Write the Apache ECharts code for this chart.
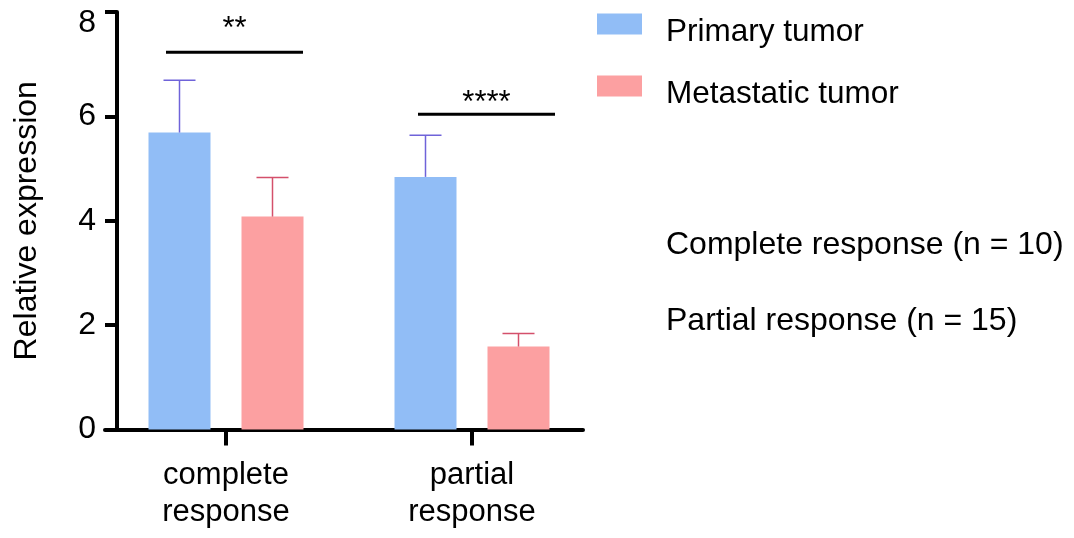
<!DOCTYPE html>
<html>
<head>
<meta charset="utf-8">
<script src="https://cdn.jsdelivr.net/npm/echarts@6/dist/echarts.min.js"></script>
<style>
html,body{margin:0;padding:0;background:#fff;}
#c{width:1074px;height:538px;}
</style>
</head>
<body>
<div id="c"></div>
<script>
// ---- data ----
const categories = ['complete\nresponse', 'partial\nresponse'];
const seriesNames = ['Primary tumor', 'Metastatic tumor'];
const primaryMean = [5.69, 4.84];
const primaryUpper = [6.69, 5.64];
const metaMean = [4.08, 1.59];
const metaUpper = [4.83, 1.84];
const yTicks = [0, 2, 4, 6, 8];
const sigLabels = ['**', '****'];
const sigLineLevel = [7.23, 6.04];
const sigStarLevel = [7.67, 6.25];
const notes = ['Complete response (n = 10)', 'Partial response (n = 15)'];

// ---- layout / style ----
const FONT = "'Liberation Sans', Arial, sans-serif";
const BAR_W = 62, BAR_GAP = 31;
const OFF = (BAR_W + BAR_GAP) / 2;
const BLUE = '#91bdf6', RED = '#fca0a1';
const BLUE_ERR = '#6f63d9', RED_ERR = '#d4506b';
const sigSpan = [[-60, 77], [-54, 83]];
const TOP = 12, H = 417.5;
const yMin = yTicks[0], yMax = yTicks[yTicks.length - 1], yStep = yTicks[1] - yTicks[0];

function errRender(offset, color) {
  return function (params, api) {
    const b = api.coord([api.value(0), api.value(1)]);
    const t = api.coord([api.value(0), api.value(2)]);
    const x = b[0] + offset;
    return {
      type: 'group',
      children: [
        { type: 'line', shape: { x1: x, y1: b[1], x2: x, y2: t[1] }, style: { stroke: color, lineWidth: 1.5 } },
        { type: 'line', shape: { x1: x - 16, y1: t[1], x2: x + 16, y2: t[1] }, style: { stroke: color, lineWidth: 1.5 } }
      ]
    };
  };
}

function sigRender(params, api) {
  const i = params.dataIndex;
  const p = api.coord([api.value(0), api.value(1)]);
  const s = api.coord([api.value(0), api.value(2)]);
  const x1 = p[0] + sigSpan[i][0], x2 = p[0] + sigSpan[i][1];
  return {
    type: 'group',
    children: [
      { type: 'line', shape: { x1: x1, y1: p[1], x2: x2, y2: p[1] }, style: { stroke: '#000', lineWidth: 3 } },
      { type: 'text', x: (x1 + x2) / 2, y: s[1],
        style: { text: sigLabels[i], font: '31px ' + FONT, fill: '#000', align: 'center', verticalAlign: 'middle' } }
    ]
  };
}

function yLabelRender(params, api) {
  const p = api.coord([api.value(0), api.value(1)]);
  // keep the top label inside the frame (top-aligned with its tick)
  const y = Math.max(p[1], TOP + 11);
  return { type: 'text', x: p[0] - 21, y: y,
    style: { text: String(api.value(1)), font: '32px ' + FONT, fill: '#000', align: 'right', verticalAlign: 'middle' } };
}

const chart = echarts.init(document.getElementById('c'), null, { renderer: 'canvas' });
chart.setOption({
  animation: false,
  backgroundColor: '#fff',
  textStyle: { fontFamily: FONT },
  grid: [
    { left: 103, width: 492, top: TOP, height: H, containLabel: false, outerBoundsMode: 'none' },
    { left: 105, width: 478, top: TOP, height: H, containLabel: false, outerBoundsMode: 'none' },
    { left: 117, width: 466, top: TOP, height: H, containLabel: false, outerBoundsMode: 'none' }
  ],
  xAxis: [
    {
      type: 'category', gridIndex: 0, data: categories,
      axisLine: { show: false },
      axisTick: { show: true, alignWithLabel: true, length: 16, lineStyle: { color: '#000', width: 4 } },
      axisLabel: { color: '#000', fontSize: 31, fontFamily: FONT, lineHeight: 37, margin: 27, interval: 0 },
      splitLine: { show: false }
    },
    {
      type: 'value', gridIndex: 1, min: 0, max: 1,
      axisLine: { show: true, onZero: false, lineStyle: { color: '#000', width: 4 } },
      axisTick: { show: false }, axisLabel: { show: false }, splitLine: { show: false }
    },
    { type: 'value', gridIndex: 2, show: false, min: 0, max: 1 }
  ],
  yAxis: [
    { type: 'value', gridIndex: 0, show: false, min: yMin, max: yMax, interval: yStep },
    { type: 'value', gridIndex: 1, show: false, min: 0, max: 1 },
    {
      type: 'value', gridIndex: 2, min: yMin, max: yMax, interval: yStep,
      name: 'Relative expression', nameLocation: 'middle', nameGap: 74, nameMoveOverlap: false,
      nameTextStyle: { color: '#000', fontSize: 32, fontFamily: FONT },
      axisLine: { show: true, onZero: false, lineStyle: { color: '#000', width: 4 } },
      axisTick: { show: true, length: 12, lineStyle: { color: '#000', width: 4 } },
      axisLabel: { show: false },
      splitLine: { show: false }
    }
  ],
  legend: {
    orient: 'vertical', left: 597, top: 0, padding: 0,
    icon: 'rect', itemWidth: 45, itemHeight: 21, itemGap: 14,
    data: seriesNames,
    formatter: '{t|{name}}',
    textStyle: { color: '#000', fontSize: 31.5, fontFamily: FONT,
      rich: { t: { color: '#000', fontSize: 31.5, fontFamily: FONT, lineHeight: 30, padding: [16, 0, 0, 19] } } },
    selectedMode: false
  },
  graphic: notes.map(function (t, i) {
    return { type: 'text', x: 666, y: [245, 321][i],
      style: { text: t, font: '32px ' + FONT, fill: '#000', verticalAlign: 'middle' } };
  }),
  series: [
    { name: seriesNames[0], type: 'bar', xAxisIndex: 0, yAxisIndex: 0, data: primaryMean,
      barWidth: BAR_W, barGap: (BAR_GAP / BAR_W * 100) + '%', itemStyle: { color: BLUE } },
    { name: seriesNames[1], type: 'bar', xAxisIndex: 0, yAxisIndex: 0, data: metaMean,
      barWidth: BAR_W, barGap: (BAR_GAP / BAR_W * 100) + '%', itemStyle: { color: RED } },
    { type: 'custom', xAxisIndex: 0, yAxisIndex: 0, z: 3,
      data: primaryMean.map(function (v, i) { return [i, v, primaryUpper[i]]; }),
      renderItem: errRender(-OFF, BLUE_ERR) },
    { type: 'custom', xAxisIndex: 0, yAxisIndex: 0, z: 3,
      data: metaMean.map(function (v, i) { return [i, v, metaUpper[i]]; }),
      renderItem: errRender(OFF, RED_ERR) },
    { type: 'custom', xAxisIndex: 0, yAxisIndex: 0, z: 3,
      data: sigLineLevel.map(function (v, i) { return [i, v, sigStarLevel[i]]; }),
      renderItem: sigRender },
    { type: 'custom', xAxisIndex: 2, yAxisIndex: 2, z: 3, clip: false,
      data: yTicks.map(function (v) { return [0, v]; }),
      renderItem: yLabelRender }
  ]
});
</script>
</body>
</html>
